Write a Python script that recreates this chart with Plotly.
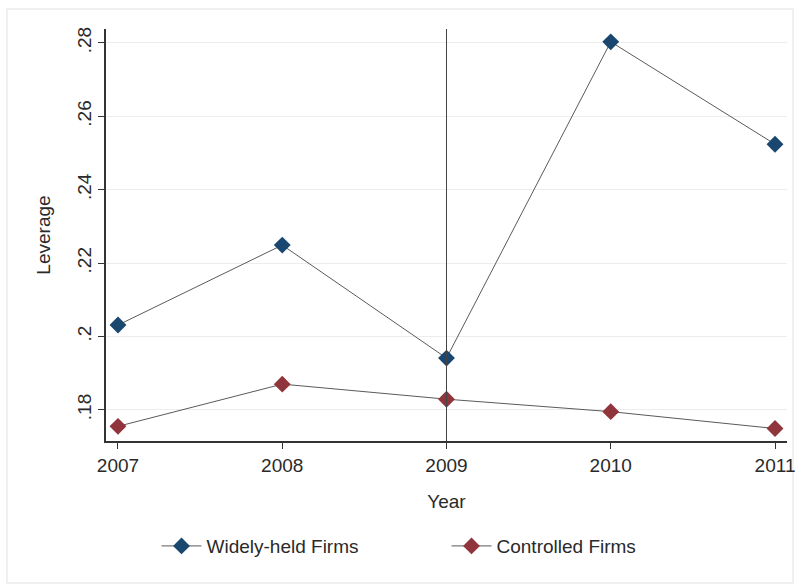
import plotly.graph_objects as go

years = [2007, 2008, 2009, 2010, 2011]
widely_held = [0.2031, 0.2249, 0.1941, 0.2803, 0.2524]
controlled = [0.1755, 0.1870, 0.1829, 0.1795, 0.1749]
ytick_vals = [0.18, 0.20, 0.22, 0.24, 0.26, 0.28]
ytick_text = [".18", ".2", ".22", ".24", ".26", ".28"]
xtick_vals = [2007, 2008, 2009, 2010, 2011]
event_year = 2009

FONT = "Liberation Sans, Arial, sans-serif"

fig = go.Figure()
fig.add_trace(go.Scatter(
    x=years, y=widely_held, mode="lines+markers", name="Widely-held Firms",
    line=dict(color="#5a5a5a", width=1),
    marker=dict(symbol="diamond", size=13, color="#1a476f"),
))
fig.add_trace(go.Scatter(
    x=years, y=controlled, mode="lines+markers", name="Controlled Firms",
    line=dict(color="#5a5a5a", width=1),
    marker=dict(symbol="diamond", size=13, color="#90353b"),
))

fig.add_shape(type="line", xref="x", yref="paper", x0=event_year, x1=event_year,
              y0=0, y1=1, line=dict(color="#444444", width=1))
fig.add_shape(type="rect", xref="paper", yref="paper",
              x0=-99/681, x1=(793-106)/681, y0=-(583-441)/412, y1=(441-9)/412,
              line=dict(color="#ececec", width=1.5), layer="below")

fig.update_layout(
    width=795, height=584,
    margin=dict(l=106, r=8, t=29, b=143),
    paper_bgcolor="white", plot_bgcolor="white",
    font=dict(family=FONT, size=19, color="#2a2a2a"),
    showlegend=True,
    legend=dict(orientation="h", x=0.5, xanchor="center", y=-0.255, yanchor="middle",
                font=dict(size=19), itemwidth=40, entrywidth=235),
)
fig.update_xaxes(
    range=[2006.927, 2011.073], tickvals=xtick_vals,
    showline=True, linecolor="#333333", linewidth=1.5,
    ticks="outside", ticklen=6, tickcolor="#333333",
    showgrid=False, zeroline=False, automargin=False,
    tickfont=dict(size=19), ticklabeloverflow="allow",
    title=dict(text="Year", font=dict(size=19), standoff=20),
)
fig.update_yaxes(
    range=[0.1715, 0.2838], tickvals=ytick_vals, ticktext=ytick_text, tickangle=-90,
    showline=True, linecolor="#333333", linewidth=1.5,
    ticks="outside", ticklen=6, tickcolor="#333333",
    showgrid=True, gridcolor="#ededed", gridwidth=1, zeroline=False, automargin=False,
    tickfont=dict(size=19),
    title=dict(text="Leverage", font=dict(size=19), standoff=18),
)

fig.write_html("out.html")
